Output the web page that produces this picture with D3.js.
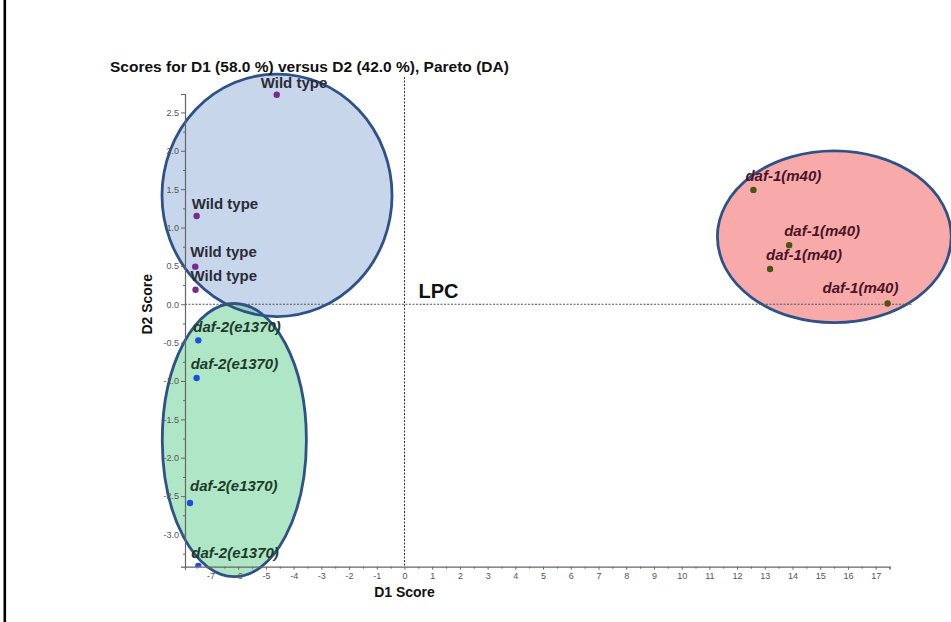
<!DOCTYPE html>
<html>
<head>
<meta charset="utf-8">
<script src="https://cdn.jsdelivr.net/npm/d3@7"></script>
<style>
  html, body { margin: 0; padding: 0; background: #fff; }
  svg { display: block; font-family: "Liberation Sans", Arial, sans-serif; }
</style>
</head>
<body>
<svg id="chart" width="951" height="622"></svg>
<script>
// Discriminant-analysis scores, D1 vs D2
const wildTypeD1 = [-4.61, -7.50, -7.55, -7.54];
const wildTypeD2 = [2.73, 1.15, 0.49, 0.19];
const daf2D1 = [-7.44, -7.50, -7.74, -7.44];
const daf2D2 = [-0.47, -0.96, -2.59, -3.41];
const daf1D1 = [12.59, 13.88, 13.19, 17.43];
const daf1D2 = [1.49, 0.77, 0.46, 0.01];

// Group regions: centre and semi-axes in score units
const groupNames = ["Wild type", "daf-2(e1370)", "daf-1(m40)"];
const regionCx = [-4.60, -6.14, 15.51];
const regionCy = [1.42, -1.77, 0.88];
const regionRx = [4.15, 2.60, 4.22];
const regionRy = [1.58, 1.78, 1.12];

const xTickValues = d3.range(-7, 18, 1);
const yTickValues = d3.range(-3, 2.51, 0.5);

const titleText = "Scores for D1 (58.0 %) versus D2 (42.0 %), Pareto (DA)";

// Layout
const plot = { left: 185, right: 889.5, top: 94, bottom: 566.7 };
const xDomain = [-7.92, 17.5];
const yDomain = [-3.42, 2.74];

const svg = d3.select("#chart");
const x = d3.scaleLinear().domain(xDomain).range([plot.left, plot.right]);
const y = d3.scaleLinear().domain(yDomain).range([plot.bottom, plot.top]);

// Left page rule
svg.append("rect").attr("x", 3.5).attr("y", 0).attr("width", 2.6).attr("height", 622).attr("fill", "#000");

svg.append("defs").append("clipPath").attr("id", "plotClip")
  .append("rect")
  .attr("x", plot.left).attr("y", plot.top - 10)
  .attr("width", plot.right - plot.left + 20)
  .attr("height", plot.bottom - plot.top + 10);

// Region fills
const regionFill = ["#8fadd5", "#5dcd8d", "#f25555"];
const regions = groupNames.map((g, i) => ({
  cx: regionCx[i], cy: regionCy[i], rx: regionRx[i], ry: regionRy[i], fill: regionFill[i]
}));
const gRegions = svg.append("g");
gRegions.selectAll("ellipse.fill").data(regions).join("ellipse")
  .attr("class", "fill")
  .attr("cx", d => x(d.cx)).attr("cy", d => y(d.cy))
  .attr("rx", d => x(d.cx + d.rx) - x(d.cx))
  .attr("ry", d => y(d.cy - d.ry) - y(d.cy))
  .attr("fill", d => d.fill).attr("fill-opacity", 0.5);

// Zero reference lines
svg.append("line")
  .attr("x1", x(0)).attr("x2", x(0))
  .attr("y1", plot.top - 17).attr("y2", plot.bottom)
  .attr("stroke", "#333").attr("stroke-width", 1).attr("stroke-dasharray", "2,1.5");
svg.append("line")
  .attr("x1", plot.left).attr("x2", plot.right + 23)
  .attr("y1", y(0)).attr("y2", y(0))
  .attr("stroke", "#555").attr("stroke-width", 1).attr("stroke-dasharray", "2,1.5");

// Axes
const fmtX = d => String(d).replace("\u2212", "-");
const fmtY = d => d3.format(".1f")(d).replace("\u2212", "-");

const xAxis = svg.append("g").attr("transform", `translate(0,${plot.bottom})`)
  .call(d3.axisBottom(x).tickValues(xTickValues).tickSize(3).tickPadding(3).tickFormat(fmtX));
const xMinor = svg.append("g").attr("transform", `translate(0,${plot.bottom})`)
  .call(d3.axisBottom(x).tickValues(d3.range(-7.5, 17.6, 1)).tickSize(2).tickFormat(""));
xMinor.select(".domain").remove();

const yAxis = svg.append("g").attr("transform", `translate(${plot.left},0)`)
  .call(d3.axisLeft(y).tickValues(yTickValues).tickSize(4).tickPadding(2).tickFormat(fmtY));
const yMinor = svg.append("g").attr("transform", `translate(${plot.left},0)`)
  .call(d3.axisLeft(y).tickValues(d3.range(-3.25, 2.6, 0.5)).tickSize(2).tickFormat(""));
yMinor.select(".domain").remove();

[xAxis, yAxis, xMinor, yMinor].forEach(g => {
  g.selectAll(".domain").attr("stroke", "#666").attr("stroke-width", 1.2);
  g.selectAll(".tick line").attr("stroke", "#666");
  g.selectAll(".tick text").attr("fill", "#555").attr("font-size", 9)
    .attr("font-family", "'Liberation Sans', Arial, sans-serif");
});

// Region outlines
gRegions.selectAll("ellipse.edge").data(regions).join("ellipse")
  .attr("class", "edge")
  .attr("cx", d => x(d.cx)).attr("cy", d => y(d.cy))
  .attr("rx", d => x(d.cx + d.rx) - x(d.cx))
  .attr("ry", d => y(d.cy - d.ry) - y(d.cy))
  .attr("fill", "none").attr("stroke", "#2e5287").attr("stroke-width", 2.8);

// Points and labels
const groups = [
  { name: groupNames[0], d1: wildTypeD1, d2: wildTypeD2, dot: "#7a2a8c", ink: "#2b2b38", italic: false,
    nudge: [[-16, -7], [-5, -7], [-5, -10], [-5, -9]] },
  { name: groupNames[1], d1: daf2D1, d2: daf2D2, dot: "#1a4fe0", ink: "#1e3b2a", italic: true,
    nudge: [[-5, -8], [-6, -9], [0, -12], [-7, -8]] },
  { name: groupNames[2], d1: daf1D1, d2: daf1D2, dot: "#4a5510", ink: "#4a1426", italic: true,
    nudge: [[-8, -9], [-5, -9], [-4, -9], [-65, -10]] }
];

const gPts = svg.append("g").attr("clip-path", "url(#plotClip)");
const gLbl = svg.append("g");
groups.forEach(gr => {
  const pts = gr.d1.map((v, i) => ({ d1: v, d2: gr.d2[i], nudge: gr.nudge[i] }));
  gPts.selectAll(null).data(pts).join("circle")
    .attr("cx", d => x(d.d1)).attr("cy", d => y(d.d2)).attr("r", 3.2)
    .attr("fill", gr.dot);
  gLbl.selectAll(null).data(pts).join("text")
    .attr("x", d => x(d.d1) + d.nudge[0]).attr("y", d => y(d.d2) + d.nudge[1])
    .attr("font-size", 15).attr("font-weight", "bold")
    .attr("font-style", gr.italic ? "italic" : "normal")
    .attr("fill", gr.ink)
    .text(gr.name);
});

// Titles and annotation
svg.append("text").attr("x", 110).attr("y", 72)
  .attr("font-size", 15.5).attr("font-weight", "bold").attr("fill", "#111")
  .text(titleText);

svg.append("text").attr("x", x(0) + 14).attr("y", y(0) - 6)
  .attr("font-size", 20).attr("font-weight", "bold").attr("fill", "#111")
  .text("LPC");

svg.append("text").attr("x", x(0)).attr("y", 597)
  .attr("text-anchor", "middle").attr("font-size", 14).attr("font-weight", "bold").attr("fill", "#111")
  .text("D1 Score");

svg.append("text")
  .attr("transform", `translate(152,${y(0)}) rotate(-90)`)
  .attr("text-anchor", "middle").attr("font-size", 14).attr("font-weight", "bold").attr("fill", "#111")
  .text("D2 Score");
</script>
</body>
</html>
